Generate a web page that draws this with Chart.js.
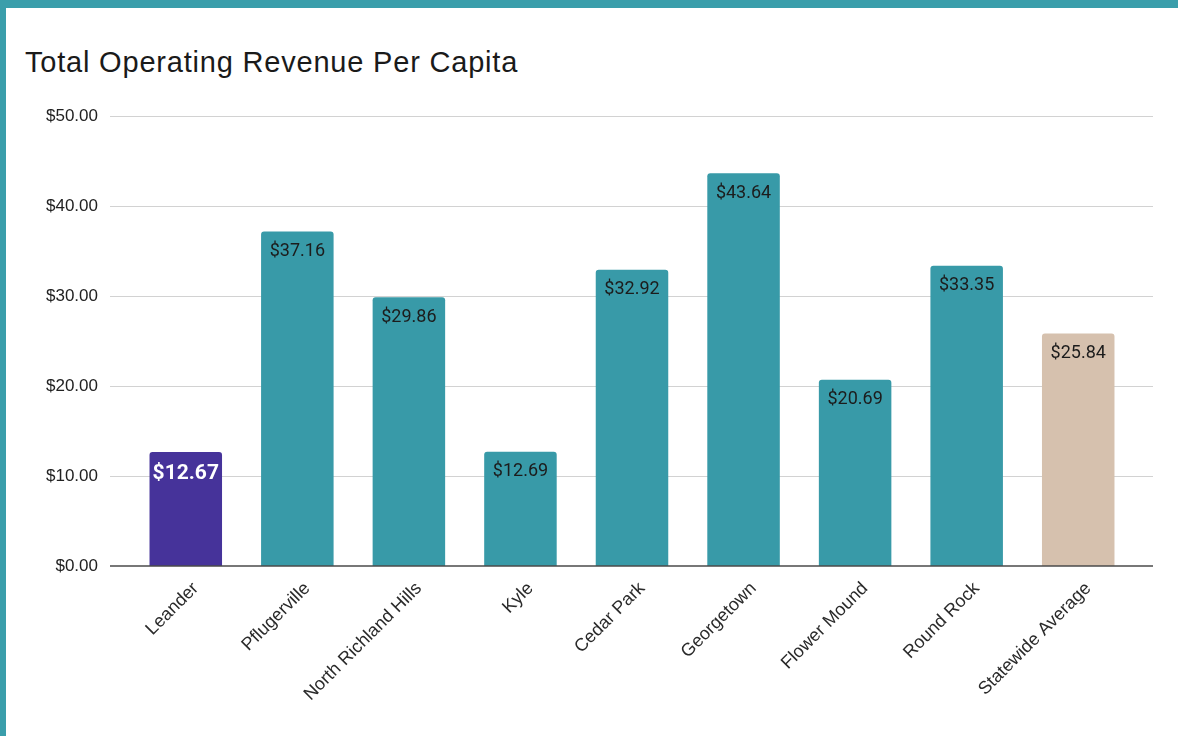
<!DOCTYPE html>
<html>
<head>
<meta charset="utf-8">
<title>Total Operating Revenue Per Capita</title>
<script src="https://cdn.jsdelivr.net/npm/chart.js@4.4.1/dist/chart.umd.min.js"></script>
<style>
  html, body { margin: 0; padding: 0; }
  body {
    width: 1178px; height: 736px;
    box-sizing: border-box;
    border-top: 8px solid #3a9eab;
    border-left: 6px solid #3a9eab;
    background: #fff;
    position: relative;
    overflow: hidden;
    font-family: 'Liberation Sans', Arial, sans-serif;
  }
  h1 {
    position: absolute; left: 19px; top: 40px; margin: 0;
    font-size: 29px; line-height: 29px; font-weight: normal;
    letter-spacing: 0.8px; color: #1a1a1a;
  }
  #wrap { position: absolute; left: 0; top: 0; width: 1172px; height: 728px; }
</style>
</head>
<body>
<h1>Total Operating Revenue Per Capita</h1>
<div id="wrap"><canvas id="revenueChart"></canvas></div>
<script>
const cities = ['Leander', 'Pflugerville', 'North Richland Hills', 'Kyle', 'Cedar Park',
  'Georgetown', 'Flower Mound', 'Round Rock', 'Statewide Average'];
const revenue = [12.67, 37.16, 29.86, 12.69, 32.92, 43.64, 20.69, 33.35, 25.84];
const yTicks = [0, 10, 20, 30, 40, 50];

const HIGHLIGHT = 'Leander';
const AVERAGE = 'Statewide Average';
const PURPLE = '#46339a';
const TEAL = '#389aa8';
const TAN = '#d6c1ae';

const money = v => '$' + Number(v).toFixed(2);

// gridlines run a little past the bars on both sides
const gridLines = {
  id: 'gridLines',
  beforeDatasetsDraw(chart) {
    const { ctx, chartArea, scales } = chart;
    const x0 = chartArea.left - 20;
    const x1 = chartArea.right + 19;
    ctx.save();
    yTicks.forEach(v => {
      if (v === 0) return;
      const y = Math.round(scales.y.getPixelForValue(v)) + 0.5;
      ctx.strokeStyle = '#d2d2d2';
      ctx.lineWidth = 1.2;
      ctx.beginPath(); ctx.moveTo(x0, y); ctx.lineTo(x1, y); ctx.stroke();
    });
    ctx.restore();
  },
  afterDatasetsDraw(chart) {
    const { ctx, chartArea, scales } = chart;
    const y = scales.y.getPixelForValue(0);
    ctx.save();
    ctx.strokeStyle = '#4a4a4a';
    ctx.lineWidth = 1.6;
    ctx.beginPath();
    ctx.moveTo(chartArea.left - 20, y);
    ctx.lineTo(chartArea.right + 19, y);
    ctx.stroke();
    ctx.restore();
  }
};

// value printed inside the top of each bar
const barValues = {
  id: 'barValues',
  afterDatasetsDraw(chart) {
    const { ctx } = chart;
    const meta = chart.getDatasetMeta(0);
    ctx.save();
    ctx.textAlign = 'center';
    ctx.textBaseline = 'middle';
    meta.data.forEach((bar, i) => {
      const hot = cities[i] === HIGHLIGHT;
      ctx.font = hot ? 'bold 21px Roboto' : '18px Roboto';
      ctx.fillStyle = hot ? '#ffffff' : '#1c1c1c';
      ctx.fillText(money(revenue[i]), bar.x, bar.y + (hot ? 22 : 20));
    });
    ctx.restore();
  }
};

new Chart(document.getElementById('revenueChart'), {
  type: 'bar',
  data: {
    labels: cities,
    datasets: [{
      data: revenue,
      backgroundColor: cities.map(c => c === HIGHLIGHT ? PURPLE : c === AVERAGE ? TAN : TEAL),
      borderRadius: 3,
      barPercentage: 0.65,
      categoryPercentage: 1
    }]
  },
  options: {
    responsive: true,
    maintainAspectRatio: false,
    animation: false,
    layout: { padding: { top: 108, right: 44, bottom: 0, left: 0 } },
    plugins: {
      legend: { display: false },
      tooltip: { enabled: false }
    },
    scales: {
      x: {
        grid: { display: false },
        border: { display: false },
        afterFit(scale) { scale.height = 170; },
        ticks: {
          color: '#2a2a2a',
          font: { family: 'Liberation Sans', size: 18 },
          maxRotation: 45,
          minRotation: 45,
          labelOffset: 10,
          padding: 4
        }
      },
      y: {
        min: 0,
        max: 50,
        grid: { display: false },
        border: { display: false },
        afterFit(scale) { scale.width = 124; },
        afterBuildTicks(scale) { scale.ticks = yTicks.map(v => ({ value: v })); },
        ticks: {
          color: '#222',
          font: { family: 'Liberation Sans', size: 17 },
          padding: 24,
          callback: v => money(v)
        }
      }
    }
  },
  plugins: [gridLines, barValues]
});
</script>
</body>
</html>
